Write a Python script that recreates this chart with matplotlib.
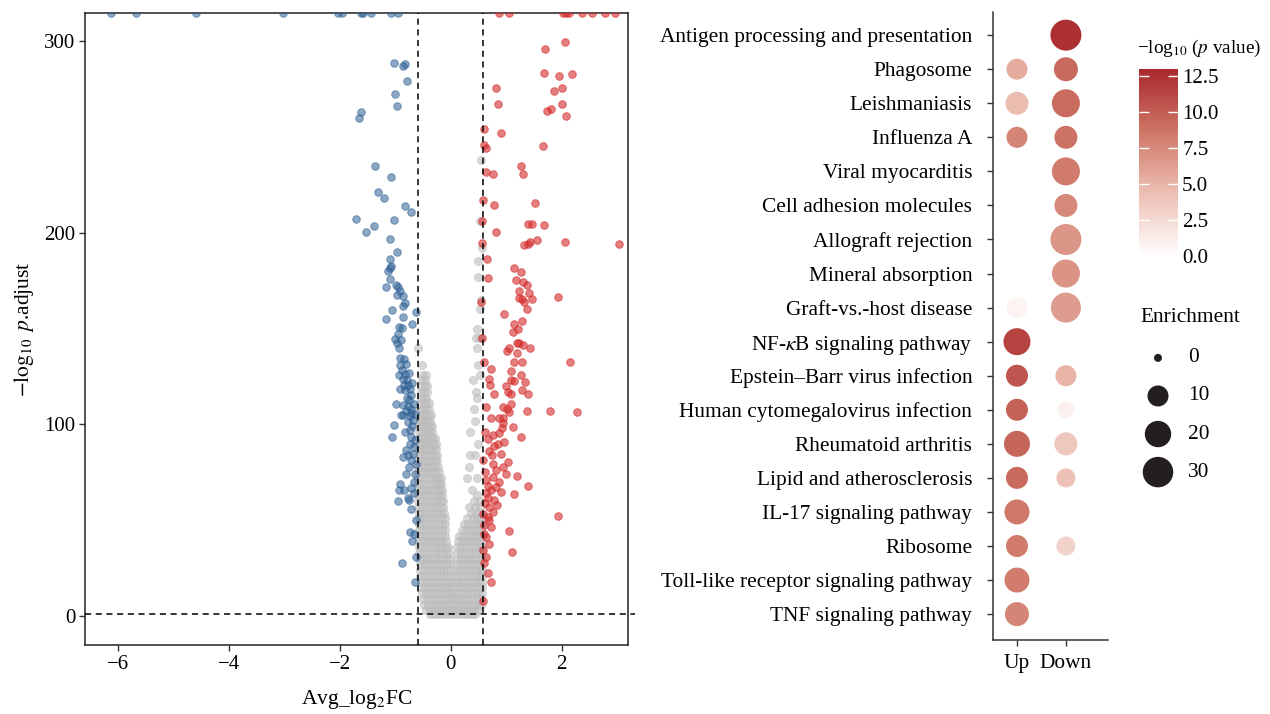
import numpy as np
import matplotlib
matplotlib.use('Agg')
import matplotlib.pyplot as plt
from matplotlib.colors import LinearSegmentedColormap

plt.rcParams['font.family'] = ['Liberation Serif', 'DejaVu Serif']
plt.rcParams['mathtext.fontset'] = 'stix'

# ---- volcano data (avg_log2FC, -log10 p.adjust) ----
TOP = 314.5  # points drawn at the upper edge (clipped)

down_pts = [
    (-6.13, TOP), (-5.68, TOP), (-4.60, TOP), (-3.03, TOP), (-2.04, TOP), (-1.97, TOP),
    (-1.62, TOP), (-1.58, TOP), (-1.44, TOP), (-1.08, TOP), (-0.95, TOP),
    (-1.02, 288.3), (-0.86, 286.8), (-0.82, 287.8), (-0.79, 279.1), (-1.00, 272.3),
    (-0.97, 265.9), (-1.62, 263.1), (-1.65, 260.0), (-1.36, 234.6), (-1.08, 228.9),
    (-1.32, 221.1), (-1.20, 217.9), (-0.82, 213.8), (-0.72, 210.6), (-1.71, 207.3),
    (-1.02, 206.8), (-1.39, 203.7), (-1.52, 200.4), (-1.10, 196.6), (-0.97, 190.1),
    (-1.09, 186.0), (-1.07, 182.5), (-1.10, 181.8), (-1.14, 180.2), (-1.09, 175.9),
    (-0.99, 172.6), (-1.16, 171.5), (-0.95, 171.7), (-0.91, 169.4), (-0.97, 167.4),
    (-0.86, 167.0), (-0.83, 163.4), (-0.86, 161.6), (-1.06, 159.9), (-0.63, 158.7),
    (-0.86, 156.1), (-1.16, 154.8), (-0.69, 152.6), (-0.94, 150.7), (-0.88, 150.3),
    (-0.95, 147.4), (-0.90, 143.9), (-1.01, 144.3), (-0.97, 142.7), (-0.94, 139.9),
    (-0.92, 134.4), (-0.85, 134.0), (-0.91, 130.9), (-0.88, 128.3), (-0.82, 126.5),
    (-0.93, 125.7), (-0.86, 123.9), (-0.78, 123.0), (-0.77, 120.4), (-0.92, 118.7),
    (-0.83, 117.8), (-0.71, 115.2), (-0.79, 113.8), (-0.75, 112.6), (-0.98, 110.9),
    (-0.86, 110.0), (-0.77, 109.6), (-0.71, 108.3), (-0.89, 104.8), (-0.74, 104.4),
    (-0.65, 105.2), (-0.74, 118.7), (-0.86, 104.8), (-0.71, 105.7), (-0.77, 101.3),
    (-1.03, 99.6), (-1.06, 93.5), (-0.71, 93.5), (-0.65, 91.8), (-0.74, 90.0),
    (-0.67, 88.3), (-0.86, 83.1), (-0.77, 83.9), (-0.68, 84.8), (-0.71, 81.3),
    (-0.62, 79.6), (-0.81, 74.4), (-0.65, 74.4), (-0.67, 70.0), (-0.92, 68.8),
    (-0.93, 65.7), (-0.84, 65.7), (-0.71, 66.6), (-0.77, 61.4), (-0.96, 60.1),
    (-0.76, 60.5), (-0.63, 50.1), (-0.74, 44.0), (-0.67, 43.1), (-0.70, 39.3),
    (-0.62, 30.9), (-0.87, 27.8), (-0.64, 17.9), (-0.68, 102.2), (-0.80, 86.5),
    (-0.73, 97.0), (-0.80, 131.5), (-0.75, 127.0), (-0.84, 120.5), (-0.70, 121.5),
    (-0.80, 107.0), (-0.66, 110.5), (-0.82, 96.0), (-0.69, 99.0), (-0.75, 78.0),
    (-0.66, 64.0), (-0.72, 56.0),
]

up_pts = [
    (0.88, TOP), (1.06, TOP), (2.02, TOP), (2.08, TOP), (2.14, TOP), (2.37, TOP),
    (2.55, TOP), (2.78, TOP), (2.97, TOP),
    (2.07, 299.4), (1.71, 295.6), (1.69, 283.0), (1.96, 281.5), (2.19, 282.6),
    (0.81, 275.6), (1.87, 273.9), (2.01, 275.5), (0.86, 267.1), (1.74, 263.5),
    (1.81, 264.3), (2.01, 266.8), (2.08, 261.0), (0.60, 253.9), (0.90, 252.0),
    (1.66, 245.0), (0.61, 245.6), (0.64, 244.0), (1.26, 234.6), (1.30, 230.8),
    (0.63, 231.7), (0.77, 230.4), (0.59, 216.9), (0.79, 214.3), (1.53, 215.2),
    (0.57, 205.9), (0.82, 200.4), (1.39, 204.4), (1.47, 204.4), (1.69, 203.9),
    (0.56, 194.8), (1.33, 193.8), (1.39, 194.1), (1.44, 195.2), (1.56, 196.4),
    (2.07, 195.2), (3.03, 194.1), (0.65, 186.5), (1.15, 181.6), (1.26, 179.5),
    (0.67, 176.4), (1.18, 175.2), (1.30, 174.0), (1.37, 172.9), (1.23, 169.6),
    (1.41, 168.4), (1.24, 166.0), (1.29, 165.3), (1.33, 163.6), (1.46, 165.4),
    (1.93, 166.3), (0.55, 163.9), (1.37, 160.1), (0.96, 157.5), (1.28, 154.0),
    (1.14, 152.2), (1.21, 150.0), (1.12, 148.1), (0.56, 144.8), (1.19, 142.7),
    (1.23, 142.2), (1.30, 141.3), (1.05, 139.6), (1.01, 138.2), (1.19, 137.0),
    (1.43, 139.6), (0.61, 132.6), (1.14, 132.6), (1.28, 132.6), (2.16, 132.6),
    (0.72, 129.1), (1.09, 127.7), (1.27, 125.7), (0.69, 123.6), (0.71, 120.4),
    (1.08, 123.0), (1.15, 122.5), (1.34, 122.2), (1.28, 117.8), (0.78, 116.1),
    (1.03, 116.9), (1.08, 116.1), (1.39, 115.7), (0.64, 109.1), (0.94, 109.1),
    (1.09, 110.9), (1.01, 107.9), (1.05, 106.5), (1.37, 107.0), (1.80, 107.0),
    (2.28, 106.5), (0.73, 103.6), (0.88, 103.4), (0.94, 103.1), (0.94, 100.5),
    (1.12, 98.4), (1.26, 93.5), (0.67, 92.6), (0.76, 94.4), (0.88, 95.3),
    (0.97, 90.9), (0.78, 88.6), (0.59, 81.7), (0.75, 83.9), (0.91, 84.8),
    (1.03, 80.4), (0.94, 77.8), (0.82, 76.1), (0.76, 72.6), (1.00, 74.0),
    (1.20, 73.2), (0.64, 70.9), (0.88, 70.0), (1.39, 67.8), (0.73, 65.7),
    (1.14, 63.6), (0.67, 61.4), (0.79, 60.5), (0.70, 57.0), (0.58, 53.5),
    (0.76, 54.4), (0.67, 51.8), (1.94, 52.1), (0.61, 47.4), (0.73, 46.6),
    (1.06, 44.5), (0.64, 41.3), (0.70, 37.9), (0.58, 34.4), (1.10, 33.4),
    (0.64, 30.9), (0.67, 22.3), (0.73, 17.9), (0.58, 7.8), (0.63, 64.0),
    (0.82, 67.4), (0.91, 64.8), (0.69, 50.1), (0.61, 43.1), (0.76, 79.6),
    (0.85, 90.0), (0.92, 98.0), (0.70, 86.0), (0.62, 75.0), (0.84, 58.0),
    (0.62, 59.0), (0.68, 68.0), (0.60, 28.0), (0.62, 96.0), (1.00, 120.0),
]

# grey (non-significant) genes, one row per -log10 p level: (y, [x values])
gray_rows = [
    (1, [-0.38, -0.31, -0.24, -0.17, -0.10, -0.03, 0.04, 0.11, 0.18, 0.25, 0.32, 0.39, 0.44]),
    (3.5, [-0.44, -0.37, -0.30, -0.23, -0.16, -0.09, -0.02, 0.05, 0.12, 0.19, 0.26, 0.33, 0.40, 0.47]),
    (6, [-0.48, -0.41, -0.34, -0.27, -0.20, -0.13, -0.06, 0.01, 0.08, 0.15, 0.22, 0.29, 0.36, 0.43, 0.50, 0.55]),
    (9, [-0.50, -0.43, -0.36, -0.29, -0.22, -0.15, -0.08, -0.01, 0.04, 0.07, 0.14, 0.21, 0.28, 0.35, 0.42, 0.49, 0.55]),
    (12, [-0.52, -0.45, -0.38, -0.31, -0.24, -0.17, -0.10, -0.03, 0.02, 0.08, 0.15, 0.22, 0.29, 0.36, 0.43, 0.50, 0.56]),
    (15, [-0.53, -0.46, -0.39, -0.32, -0.25, -0.18, -0.11, -0.04, 0.01, 0.09, 0.16, 0.23, 0.30, 0.37, 0.44, 0.51, 0.56]),
    (18, [-0.54, -0.47, -0.40, -0.33, -0.26, -0.19, -0.12, -0.05, 0.01, 0.09, 0.16, 0.23, 0.30, 0.37, 0.44, 0.51, 0.56]),
    (21, [-0.55, -0.48, -0.41, -0.34, -0.27, -0.20, -0.13, -0.06, 0.00, 0.10, 0.17, 0.24, 0.31, 0.38, 0.45, 0.52, 0.57]),
    (24, [-0.55, -0.48, -0.41, -0.34, -0.27, -0.20, -0.13, -0.06, 0.00, 0.10, 0.17, 0.24, 0.31, 0.38, 0.45, 0.52, 0.57]),
    (27, [-0.56, -0.49, -0.42, -0.35, -0.28, -0.21, -0.14, -0.07, -0.01, 0.11, 0.18, 0.25, 0.32, 0.39, 0.46, 0.53]),
    (30, [-0.56, -0.49, -0.42, -0.35, -0.28, -0.21, -0.14, -0.07, -0.02, 0.11, 0.18, 0.25, 0.32, 0.39, 0.46, 0.53, 0.57]),
    (33, [-0.57, -0.50, -0.43, -0.36, -0.29, -0.22, -0.15, -0.08, -0.03, 0.12, 0.19, 0.26, 0.33, 0.40, 0.47, 0.54]),
    (36, [-0.57, -0.50, -0.43, -0.36, -0.29, -0.22, -0.15, -0.08, -0.04, 0.12, 0.19, 0.26, 0.33, 0.40, 0.47, 0.54, 0.57]),
    (39, [-0.57, -0.50, -0.43, -0.36, -0.29, -0.22, -0.15, -0.09, 0.13, 0.20, 0.27, 0.34, 0.41, 0.48, 0.55]),
    (42, [-0.58, -0.51, -0.44, -0.37, -0.30, -0.23, -0.16, -0.10, 0.15, 0.22, 0.29, 0.36, 0.43, 0.50, 0.56]),
    (45, [-0.58, -0.51, -0.44, -0.37, -0.30, -0.23, -0.16, -0.10, 0.20, 0.27, 0.34, 0.41, 0.48, 0.55]),
    (48, [-0.58, -0.51, -0.44, -0.37, -0.30, -0.23, -0.16, -0.11, 0.24, 0.31, 0.38, 0.45, 0.52, 0.57]),
    (51, [-0.58, -0.51, -0.44, -0.37, -0.30, -0.23, -0.16, -0.11, 0.30, 0.40, 0.48, 0.55]),
    (54, [-0.58, -0.51, -0.44, -0.37, -0.30, -0.23, -0.17, -0.12, 0.36, 0.46, 0.54]),
    (57, [-0.59, -0.52, -0.45, -0.38, -0.31, -0.24, -0.18, -0.13, 0.33, 0.44, 0.52]),
    (60, [-0.59, -0.52, -0.45, -0.38, -0.31, -0.24, -0.18, -0.14, 0.42, 0.53]),
    (63, [-0.59, -0.52, -0.45, -0.38, -0.31, -0.24, -0.19, -0.15, 0.48]),
    (66, [-0.59, -0.52, -0.45, -0.38, -0.31, -0.25, -0.20, -0.16, 0.38]),
    (69, [-0.59, -0.52, -0.45, -0.38, -0.31, -0.25, -0.21, -0.17]),
    (72, [-0.59, -0.52, -0.45, -0.38, -0.32, -0.26, -0.21, -0.18, 0.30, 0.48]),
    (75, [-0.59, -0.52, -0.45, -0.39, -0.33, -0.27, -0.22]),
    (78, [-0.59, -0.52, -0.46, -0.40, -0.34, -0.28, -0.23, 0.33]),
    (81, [-0.59, -0.53, -0.47, -0.41, -0.35, -0.29, -0.24]),
    (84, [-0.58, -0.52, -0.46, -0.40, -0.34, -0.29, -0.25, 0.34, 0.44]),
    (87, [-0.58, -0.52, -0.46, -0.40, -0.35, -0.30, -0.26]),
    (90, [-0.58, -0.52, -0.46, -0.41, -0.36, -0.31, -0.27, 0.50]),
    (93, [-0.58, -0.52, -0.46, -0.41, -0.36, -0.32, -0.28]),
    (96, [-0.57, -0.51, -0.46, -0.41, -0.37, -0.33, 0.35]),
    (99, [-0.57, -0.51, -0.46, -0.41, -0.37, -0.33]),
    (102, [-0.56, -0.51, -0.46, -0.41, -0.37, 0.44]),
    (105, [-0.56, -0.50, -0.45, -0.40, -0.35]),
    (108, [-0.55, -0.50, -0.45, -0.40, 0.42]),
    (111, [-0.55, -0.49, -0.44, -0.39]),
    (114, [-0.54, -0.49, -0.44, 0.48]),
    (117, [-0.54, -0.48, -0.43, 0.45]),
    (120, [-0.53, -0.47, -0.42]),
    (123, [-0.52, -0.46, 0.40]),
    (126, [-0.50, -0.45, 0.52]),
    (131, [-0.52, 0.50]),
    (140, [-0.59, 0.48]),
    (145, [0.45, 0.52]),
    (150, [0.47]),
    (160, [0.53]),
    (165, [0.55]),
    (177, [0.50]),
    (185, [0.50]),
    (192, [0.56]),
    (206, [0.52]),
    (238, [0.54]),
]

# ---- enrichment dot plot data ----
pathways = [
    'Antigen processing and presentation', 'Phagosome', 'Leishmaniasis', 'Influenza A',
    'Viral myocarditis', 'Cell adhesion molecules', 'Allograft rejection',
    'Mineral absorption', 'Graft-vs.-host disease', r'NF-$\kappa$B signaling pathway',
    'Epstein\u2013Barr virus infection', 'Human cytomegalovirus infection',
    'Rheumatoid arthritis', 'Lipid and atherosclerosis', 'IL-17 signaling pathway',
    'Ribosome', 'Toll-like receptor signaling pathway', 'TNF signaling pathway',
]
groups = ['Up', 'Down']
nan = np.nan
up_enrich = [nan, 10, 13.3, 10, nan, nan, nan, nan, 10, 21.4, 11.6, 11.6, 19.2, 11.6, 17.1, 11.6, 17.1, 15.2]
up_logp = [nan, 5.5, 4.5, 7.8, nan, nan, nan, nan, 0.8, 11.5, 10.5, 9.8, 9.5, 9.3, 8.6, 8.4, 8.3, 7.8]
down_enrich = [31.3, 15.2, 23.7, 13.3, 23.7, 13.3, 31.3, 23.7, 28.6, nan, 10, 4.8, 13.3, 7.2, nan, 7.2, nan, nan]
down_logp = [12.5, 9.3, 9.2, 8.8, 8.4, 7.6, 6.8, 7.0, 6.4, nan, 5.0, 1.0, 3.8, 4.2, nan, 3.0, nan, nan]
enrich_breaks = [0, 10, 20, 30]
logp_max = 13.0


def dot_size(v):
    # diameter in px grows with sqrt(enrichment), converted to pt^2
    d = 8 + 4.11 * np.sqrt(np.asarray(v, dtype=float))
    return (d * 0.72) ** 2


cmap = LinearSegmentedColormap.from_list(
    'wr', [(0, '#ffffff'), (0.35, '#ebbcb0'), (0.65, '#d07a6a'), (1, '#a8282c')])

W, H = 1270, 714
fig = plt.figure(figsize=(W / 100, H / 100), dpi=100)


def px_axes(l, t, r, b):
    return fig.add_axes([l / W, 1 - b / H, (r - l) / W, (b - t) / H])


# ---- volcano ----
ax = px_axes(85, 13, 628, 645)
g = np.array([(x, y) for y, xs in gray_rows for x in xs])
d = np.array(down_pts)
u = np.array(up_pts)
ax.scatter(g[:, 0], g[:, 1], s=34, color='#bdbdbd', alpha=0.6, linewidths=0.6, zorder=2)
ax.scatter(d[:, 0], d[:, 1], s=30, color='#2c5f94', alpha=0.55, linewidths=0.7, zorder=3)
ax.scatter(u[:, 0], u[:, 1], s=30, color='#d42a2a', alpha=0.6, linewidths=0.7, zorder=3)
for xv in (-0.585, 0.585):
    ax.axvline(xv, color='black', lw=1.1, ls=(0, (4, 3)), zorder=4)
ax.axhline(-np.log10(0.05), xmax=1.013, clip_on=False, color='black', lw=1.1,
           ls=(0, (4, 3)), zorder=4)
ax.set_xlim(-6.6, 3.2)
ax.set_ylim(-15, TOP)
ax.set_xticks([-6, -4, -2, 0, 2])
ax.set_yticks([0, 100, 200, 300])
ax.set_xticklabels(['\u22126', '\u22124', '\u22122', '0', '2'])
ax.tick_params(labelsize=15, length=4, width=1, color='#333333', pad=3)
for sp in ax.spines.values():
    sp.set_linewidth(1.1)
    sp.set_color('#222222')
ax.set_xlabel('Avg_log$_2$FC', fontsize=15.5, labelpad=10)
ax.set_ylabel(r'$-\log_{10}\ p$.adjust', fontsize=15.5, labelpad=6)

# ---- dot plot ----
n = len(pathways)
ypos = np.arange(n)[::-1] + 1
dax = px_axes(993, 12, 1108, 640)
dax.scatter(np.full(n, 1), ypos, s=dot_size(up_enrich), c=up_logp, cmap=cmap,
            vmin=0, vmax=logp_max, linewidths=0, zorder=3)
sc = dax.scatter(np.full(n, 2), ypos, s=dot_size(down_enrich), c=down_logp, cmap=cmap,
                 vmin=0, vmax=logp_max, linewidths=0, zorder=3)
dax.set_xlim(0.51, 2.86)
dax.set_ylim(0.24, n + 0.68)
dax.set_xticks([1, 2])
dax.set_xticklabels(groups)
dax.set_yticks(ypos)
dax.set_yticklabels(pathways)
dax.spines['top'].set_visible(False)
dax.spines['right'].set_visible(False)
for sp in ('left', 'bottom'):
    dax.spines[sp].set_linewidth(1.1)
    dax.spines[sp].set_color('#333333')
dax.tick_params(axis='y', labelsize=15.4, length=4, width=1, color='#333333', pad=11)
dax.tick_params(axis='x', labelsize=15.4, length=4, width=1, color='#333333', pad=6)

# ---- colour bar ----
cax = px_axes(1139, 69, 1178, 256)
cb = fig.colorbar(sc, cax=cax)
cb.outline.set_visible(False)
cb.set_ticks([0, 2.5, 5, 7.5, 10, 12.5])
cb.ax.yaxis.set_ticks_position('both')
cb.ax.tick_params(direction='in', length=7, width=1, color='white',
                  labelsize=15, labelleft=False, labelright=True, pad=3)
fig.text(1137 / W, 1 - 48 / H, '\u2212log$_{10}$ ($p$ value)', fontsize=13.8,
         ha='left', va='center')

# ---- size legend ----
fig.text(1140 / W, 1 - 318 / H, 'Enrichment', fontsize=15.4, ha='left', va='center')
lax = px_axes(1130, 340, 1230, 490)
lax.axis('off')
idx = np.arange(len(enrich_breaks))
lax.scatter(np.full(len(idx), 0.28), idx, s=dot_size(enrich_breaks), color='#231f20',
            linewidths=0)
for i, b in zip(idx, enrich_breaks):
    lax.text(0.58, i, str(b), fontsize=15.4, ha='left', va='center')
lax.set_xlim(0, 1)
lax.set_ylim(len(idx) - 0.53, -0.47)

fig.savefig('out.png', dpi=100)
